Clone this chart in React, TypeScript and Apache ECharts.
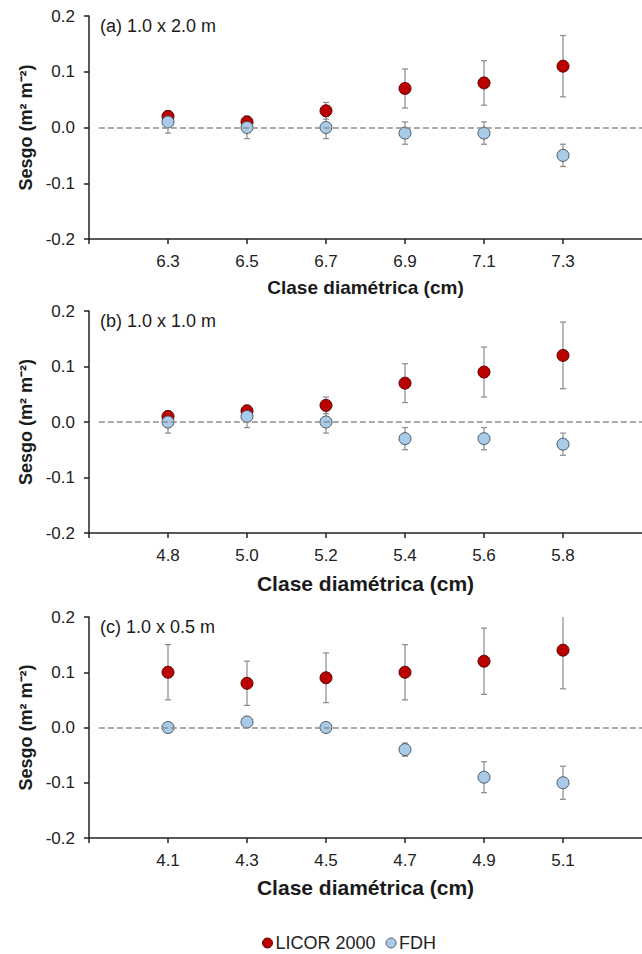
import React, { useEffect, useRef } from "react";
import * as echarts from "echarts";

// ---- data ----
const panelLabels = ["(a) 1.0 x 2.0 m", "(b) 1.0 x 1.0 m", "(c) 1.0 x 0.5 m"];

const classesA = [6.3, 6.5, 6.7, 6.9, 7.1, 7.3];
const licorA = [0.02, 0.01, 0.03, 0.07, 0.08, 0.11];
const licorErrA = [0.01, 0.01, 0.015, 0.035, 0.04, 0.055];
const fdhA = [0.01, 0.0, 0.0, -0.01, -0.01, -0.05];
const fdhErrA = [0.02, 0.02, 0.02, 0.02, 0.02, 0.02];

const classesB = [4.8, 5.0, 5.2, 5.4, 5.6, 5.8];
const licorB = [0.01, 0.02, 0.03, 0.07, 0.09, 0.12];
const licorErrB = [0.01, 0.01, 0.015, 0.035, 0.045, 0.06];
const fdhB = [0.0, 0.01, 0.0, -0.03, -0.03, -0.04];
const fdhErrB = [0.02, 0.02, 0.02, 0.02, 0.02, 0.02];

const classesC = [4.1, 4.3, 4.5, 4.7, 4.9, 5.1];
const licorC = [0.1, 0.08, 0.09, 0.1, 0.12, 0.14];
const licorErrC = [0.05, 0.04, 0.045, 0.05, 0.06, 0.07];
const fdhC = [0.0, 0.01, 0.0, -0.04, -0.09, -0.1];
const fdhErrC = [0.005, 0.005, 0.005, 0.012, 0.028, 0.03];

const yTicks = [-0.2, -0.1, 0.0, 0.1, 0.2];
const seriesNames = ["LICOR 2000", "FDH"];
const xTitle = "Clase diamétrica (cm)";
const yTitle = "Sesgo (m² m⁻²)";

const FONT = "'Liberation Sans', Arial, Helvetica, sans-serif";
const LICOR_COLOR = "#bb0000";
const LICOR_BORDER = "#5e0000";
const FDH_COLOR = "#a8cbea";
const FDH_BORDER = "#4c5866";

const panels = [
  { classes: classesA, licor: licorA, licorErr: licorErrA, fdh: fdhA, fdhErr: fdhErrA, top: 16, height: 223, titleSize: 19, titleGap: 48 },
  { classes: classesB, licor: licorB, licorErr: licorErrB, fdh: fdhB, fdhErr: fdhErrB, top: 311, height: 222, titleSize: 21, titleGap: 50 },
  { classes: classesC, licor: licorC, licorErr: licorErrC, fdh: fdhC, fdhErr: fdhErrC, top: 617, height: 221, titleSize: 21, titleGap: 49 },
];

function errorBarRender(params: any, api: any) {
  const x = api.value(0);
  const y = api.value(1);
  const e = api.value(2);
  const hi = api.coord([x, y + e]);
  const lo = api.coord([x, y - e]);
  const cap = 3;
  const style = { stroke: "#8a8a8a", lineWidth: 1.2 };
  return {
    type: "group",
    children: [
      { type: "line", shape: { x1: hi[0], y1: hi[1], x2: lo[0], y2: lo[1] }, style },
      { type: "line", shape: { x1: hi[0] - cap, y1: hi[1], x2: hi[0] + cap, y2: hi[1] }, style },
      { type: "line", shape: { x1: lo[0] - cap, y1: lo[1], x2: lo[0] + cap, y2: lo[1] }, style },
    ],
  };
}

export default function App() {
  const ref = useRef<HTMLDivElement>(null);

  useEffect(() => {
    if (!ref.current) return;
    const chart = echarts.init(ref.current, undefined, { renderer: "svg" });

    const grid: any[] = [];
    const xAxis: any[] = [];
    const yAxis: any[] = [];
    const series: any[] = [];
    const graphic: any[] = [];

    panels.forEach((p, i) => {
      const step = p.classes[1] - p.classes[0];
      const xMin = +(p.classes[0] - step).toFixed(2);
      const xMax = +(p.classes[p.classes.length - 1] + step).toFixed(2);
      grid.push({ left: 89, right: -7, top: p.top, height: p.height, containLabel: false });
      xAxis.push({
        type: "value",
        gridIndex: i,
        min: xMin,
        max: xMax,
        name: xTitle,
        nameLocation: "middle",
        nameGap: p.titleGap,
        nameTextStyle: { fontFamily: FONT, fontWeight: "bold", fontSize: p.titleSize, color: "#1a1a1a", verticalAlign: "middle" },
        axisLine: { show: true, onZero: false, lineStyle: { color: "#222", width: 1.5 } },
        axisTick: { show: true, length: 5, lineStyle: { color: "#222", width: 1.5 }, customValues: [xMin, ...p.classes] },
        axisLabel: {
          customValues: p.classes,
          formatter: (v: number) => v.toFixed(1),
          fontFamily: FONT,
          fontSize: 17,
          color: "#222",
          margin: 14,
        },
        splitLine: { show: false },
      });
      yAxis.push({
        type: "value",
        gridIndex: i,
        min: yTicks[0],
        max: yTicks[yTicks.length - 1],
        interval: 0.1,
        name: yTitle,
        nameLocation: "middle",
        nameGap: 61,
        nameTextStyle: { fontFamily: FONT, fontWeight: "bold", fontSize: 18, color: "#1a1a1a", verticalAlign: "middle" },
        axisLine: { show: true, lineStyle: { color: "#222", width: 1.5 } },
        axisTick: { show: true, length: 5, lineStyle: { color: "#222", width: 1.5 } },
        axisLabel: {
          formatter: (v: number) => (Math.abs(v) < 1e-9 ? "0.0" : v.toFixed(1)),
          fontFamily: FONT,
          fontSize: 17,
          color: "#222",
          margin: 14,
        },
        splitLine: { show: false },
      });

      const licorData = p.classes.map((c, k) => [c, p.licor[k], p.licorErr[k]]);
      const fdhData = p.classes.map((c, k) => [c, p.fdh[k], p.fdhErr[k]]);

      series.push({
        type: "custom",
        xAxisIndex: i,
        yAxisIndex: i,
        renderItem: errorBarRender,
        data: licorData,
        clip: true,
        z: 1,
        silent: true,
        markLine: {
          silent: true,
          symbol: ["none", "none"],
          label: { show: false },
          lineStyle: { color: "#8f8f8f", type: [6, 3], width: 1.5 },
          data: [[{ coord: [xMin + 0.025, 0] }, { coord: [xMax, 0] }]],
        },
      });
      series.push({
        type: "custom",
        xAxisIndex: i,
        yAxisIndex: i,
        renderItem: errorBarRender,
        data: fdhData,
        clip: true,
        z: 1,
        silent: true,
      });
      series.push({
        type: "scatter",
        name: seriesNames[0],
        xAxisIndex: i,
        yAxisIndex: i,
        symbol: "circle",
        symbolSize: 12,
        itemStyle: { color: LICOR_COLOR, borderColor: LICOR_BORDER, borderWidth: 1, opacity: 1 },
        data: p.classes.map((c, k) => [c, p.licor[k]]),
        z: 3,
      });
      series.push({
        type: "scatter",
        name: seriesNames[1],
        xAxisIndex: i,
        yAxisIndex: i,
        symbol: "circle",
        symbolSize: 12,
        itemStyle: { color: FDH_COLOR, borderColor: FDH_BORDER, borderWidth: 1, opacity: 1 },
        data: p.classes.map((c, k) => [c, p.fdh[k]]),
        z: 4,
      });

      graphic.push({
        type: "text",
        left: 100,
        top: p.top + 1,
        style: { text: panelLabels[i], fontFamily: FONT, fontSize: 18, fill: "#1a1a1a" },
      });
    });

    chart.setOption({
      animation: false,
      backgroundColor: "#ffffff",
      textStyle: { fontFamily: FONT },
      grid,
      xAxis,
      yAxis,
      series,
      graphic,
      legend: {
        data: [
          { name: seriesNames[0], itemStyle: { color: LICOR_COLOR, borderColor: LICOR_BORDER, borderWidth: 1, opacity: 1 } },
          { name: seriesNames[1], itemStyle: { color: FDH_COLOR, borderColor: FDH_BORDER, borderWidth: 1, opacity: 1 } },
        ],
        icon: "circle",
        itemWidth: 10,
        itemHeight: 10,
        itemGap: 10,
        padding: 0,
        left: 262,
        top: 934,
        selectedMode: false,
        textStyle: { fontFamily: FONT, fontSize: 18, lineHeight: 18, color: "#222", padding: [0, 0, 0, -2] },
      },
    });

    return () => chart.dispose();
  }, []);

  return (
    <div
      ref={ref}
      style={{ position: "fixed", left: 0, top: 0, width: 642, height: 954, background: "#fff" }}
    />
  );
}
